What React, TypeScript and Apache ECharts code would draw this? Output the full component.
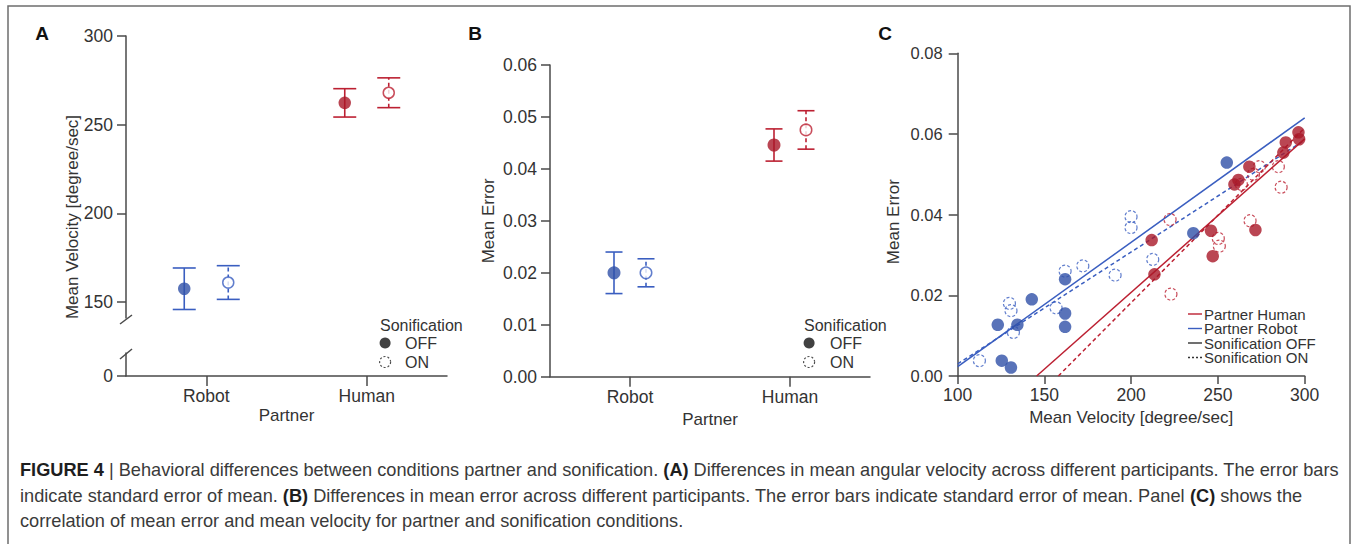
import React, { useEffect, useRef } from 'react';
import * as echarts from 'echarts';

// ---------- data ----------
const partners = ['Robot', 'Human'];

// Panel A: mean velocity [degree/sec], mean and SEM per partner
const velOffMean = [157.5, 262.3];
const velOffSem = [11.7, 8.0];
const velOnMean = [161.0, 268.0];
const velOnSem = [9.5, 8.4];
const velTicks = [150, 200, 250, 300];
const velLowTicks = [0];

// Panel B: mean error, mean and SEM per partner
const errOffMean = [0.02, 0.0446];
const errOffSem = [0.004, 0.0031];
const errOnMean = [0.02, 0.0475];
const errOnSem = [0.0027, 0.0037];

// Panel C: [mean velocity, mean error] per participant
const robotOff = [
  [161.9, 0.024], [142.7, 0.019], [123.1, 0.0127], [134.4, 0.0127], [161.9, 0.0155],
  [161.9, 0.0122], [125.4, 0.0038], [130.7, 0.0021], [255.1, 0.0529], [235.8, 0.0354],
];
const robotOn = [
  [161.9, 0.026], [129.8, 0.018], [130.7, 0.0162], [156.7, 0.0169], [132.1, 0.0108],
  [112.5, 0.0038], [172.1, 0.0273], [199.9, 0.0395], [199.9, 0.0368], [190.7, 0.025],
  [212.4, 0.0289],
];
const humanOff = [
  [211.8, 0.0337], [213.4, 0.0252], [246.0, 0.036], [247.0, 0.0297], [271.6, 0.0362],
  [268.1, 0.0519], [259.5, 0.0475], [261.8, 0.0486], [287.7, 0.0554], [289.1, 0.0579],
  [296.4, 0.0604], [296.8, 0.0587],
];
const humanOn = [
  [222.4, 0.0388], [222.9, 0.0203], [250.2, 0.0341], [250.8, 0.0322], [268.5, 0.0385],
  [273.9, 0.0519], [284.8, 0.0519], [286.4, 0.0468], [263.5, 0.0475], [270.5, 0.05],
];

// regression lines (endpoints)
const fitRobotOff = [[100, 0.0023], [300, 0.064]];
const fitRobotOn = [[100, 0.003], [300, 0.0585]];
const fitHumanOff = [[145.5, 0], [300, 0.0588]];
const fitHumanOn = [[158, 0], [300, 0.0615]];

const legendC = ['Partner Human', 'Partner Robot', 'Sonification OFF', 'Sonification ON'];

const captionLines = [
  '{b|FIGURE 4} | Behavioral differences between conditions partner and sonification. {b|(A)} Differences in mean angular velocity across different participants. The error bars',
  'indicate standard error of mean. {b|(B)} Differences in mean error across different participants. The error bars indicate standard error of mean. Panel {b|(C)} shows the',
  'correlation of mean error and mean velocity for partner and sonification conditions.',
];

// ---------- styles ----------
const FONT = '"Liberation Sans", Arial, Helvetica, sans-serif';
const AXIS = '#4a4a4a';
const TEXT = '#333333';
const BLUE = '#2f50a8';
const RED = '#a91828';
const BLUE_LINE = '#3a5ec0';
const RED_LINE = '#bc2032';
const partnerColors = [BLUE, RED];
const partnerLineColors = ['#3a5ec0', '#bc2032'];

const SOLID_ICON = 'path://M0,0 L14,0 L14,1.4 L0,1.4 Z';
const DASH_ICON = 'path://M0,0 h2 v1.4 h-2 Z M4,0 h2 v1.4 h-2 Z M8,0 h2 v1.4 h-2 Z M12,0 h2 v1.4 h-2 Z';

function errorBars(xi: number, yi: number, means: number[], sems: number[], offset: number, capW: number, dashed: boolean) {
  return {
    type: 'custom',
    xAxisIndex: xi,
    yAxisIndex: yi,
    silent: true,
    z: 2,
    data: means.map((m, i) => [i, m - sems[i], m + sems[i]]),
    renderItem: (params: any, api: any) => {
      const i = api.value(0);
      const lo = api.coord([i, api.value(1)]);
      const hi = api.coord([i, api.value(2)]);
      const x = lo[0] + offset;
      const color = partnerLineColors[params.dataIndex];
      const st = { stroke: color, lineWidth: 1.6, fill: 'none' };
      return {
        type: 'group',
        children: [
          { type: 'line', shape: { x1: x, y1: lo[1], x2: x, y2: hi[1] }, style: { ...st, lineDash: dashed ? [4, 3] : null } },
          { type: 'line', shape: { x1: x - capW / 2, y1: lo[1], x2: x + capW / 2, y2: lo[1] }, style: st },
          { type: 'line', shape: { x1: x - capW / 2, y1: hi[1], x2: x + capW / 2, y2: hi[1] }, style: st },
        ],
      };
    },
  };
}

function meanDots(name: string, xi: number, yi: number, means: number[], offset: number, size: number, open: boolean) {
  return {
    type: 'scatter',
    name,
    xAxisIndex: xi,
    yAxisIndex: yi,
    symbol: 'circle',
    symbolSize: size,
    symbolOffset: [offset, 0],
    z: 4,
    itemStyle: open ? { color: '#ffffff', borderColor: '#222', borderWidth: 1.5 } : { color: '#111' },
    data: means.map((m, i) => ({
      value: [i, m],
      itemStyle: open
        ? { color: '#ffffff', borderColor: partnerLineColors[i], borderWidth: 1.5 }
        : { color: partnerColors[i] },
    })),
  };
}

const tickLabel = (size: number, margin: number) => ({ color: TEXT, fontSize: size, fontFamily: FONT, margin });
const axLine = { show: true, lineStyle: { color: AXIS, width: 1.5 } };
const axTick = (len: number) => ({ show: true, length: len, lineStyle: { color: AXIS, width: 1.5 } });
const nameStyle = { color: TEXT, fontSize: 17, fontFamily: FONT };

const legendSonif = (left: number, itemWidth: number) => ({
  left,
  top: 335,
  padding: 0,
  orient: 'vertical',
  itemWidth,
  itemHeight: 11,
  itemGap: 3,
  selectedMode: false,
  textStyle: { color: TEXT, fontSize: 16, fontFamily: FONT, lineHeight: 16 },
  data: [
    { name: 'OFF', icon: 'circle', itemStyle: { color: '#111', borderWidth: 0 } },
    { name: 'ON', icon: 'circle', itemStyle: { color: '#ffffff', borderColor: '#222', borderWidth: 1.2, borderType: [2, 2] } },
  ],
});

function buildOption(): any {
  return {
    animation: false,
    backgroundColor: '#ffffff',
    textStyle: { fontFamily: FONT },
    grid: [
      { left: 126, top: 36, width: 321, height: 282 },
      { left: 126, top: 353, width: 321, height: 23 },
      { left: 550, top: 65, width: 320, height: 311.7 },
      { left: 957.7, top: 53.3, width: 347, height: 322.7 },
    ],
    xAxis: [
      { gridIndex: 0, type: 'category', data: partners, show: false },
      {
        gridIndex: 1, type: 'category', data: partners,
        axisLine: axLine, axisTick: { ...axTick(10), alignWithLabel: true },
        axisLabel: tickLabel(17.5, 11),
        name: 'Partner', nameLocation: 'middle', nameGap: 31, nameTextStyle: nameStyle,
      },
      {
        gridIndex: 2, type: 'category', data: partners,
        axisLine: axLine, axisTick: { ...axTick(10), alignWithLabel: true },
        axisLabel: tickLabel(17.5, 11),
        name: 'Partner', nameLocation: 'middle', nameGap: 31, nameTextStyle: nameStyle,
      },
      {
        gridIndex: 3, type: 'value', min: 100, max: 300, interval: 50,
        axisLine: axLine, axisTick: axTick(8), splitLine: { show: false },
        axisLabel: tickLabel(17.5, 10),
        name: 'Mean Velocity [degree/sec]', nameLocation: 'middle', nameGap: 27, nameTextStyle: nameStyle,
      },
    ],
    yAxis: [
      {
        gridIndex: 0, type: 'value', min: 141, max: 300,
        axisLine: axLine, axisTick: { ...axTick(9), customValues: velTicks },
        axisLabel: { ...tickLabel(17.5, 13), customValues: velTicks }, splitLine: { show: false },
      },
      {
        gridIndex: 1, type: 'value', min: 0, max: 13,
        axisLine: axLine, axisTick: { ...axTick(9), customValues: velLowTicks },
        axisLabel: { ...tickLabel(17.5, 13), customValues: velLowTicks }, splitLine: { show: false },
      },
      {
        gridIndex: 2, type: 'value', min: 0, max: 0.06, interval: 0.01,
        axisLine: axLine, axisTick: axTick(9), splitLine: { show: false },
        axisLabel: { ...tickLabel(17.5, 13), formatter: (v: number) => v.toFixed(2) },
        name: 'Mean Error', nameLocation: 'middle', nameGap: 53, nameTextStyle: nameStyle,
      },
      {
        gridIndex: 3, type: 'value', min: 0, max: 0.08, interval: 0.02,
        axisLine: axLine, axisTick: axTick(9), splitLine: { show: false },
        axisLabel: { ...tickLabel(16.5, 15), formatter: (v: number) => v.toFixed(2) },
        name: 'Mean Error', nameLocation: 'middle', nameGap: 56,
        nameTextStyle: { ...nameStyle, padding: [0, 14, 0, 0] },
      },
    ],
    legend: [
      legendSonif(379, 30),
      legendSonif(803, 32),
      {
        left: 1188,
        top: 306.5,
        padding: 0,
        orient: 'vertical',
        itemWidth: 14,
        itemHeight: 12,
        itemGap: -0.5,
        selectedMode: false,
        textStyle: { color: TEXT, fontSize: 15, fontFamily: FONT, lineHeight: 14, padding: [0, 0, 0, -3] },
        data: [
          { name: legendC[0], icon: SOLID_ICON, itemStyle: { color: RED_LINE } },
          { name: legendC[1], icon: SOLID_ICON, itemStyle: { color: BLUE_LINE } },
          { name: legendC[2], icon: SOLID_ICON, itemStyle: { color: '#333' } },
          { name: legendC[3], icon: DASH_ICON, itemStyle: { color: '#333' } },
        ],
      },
    ],
    series: [
      // Panel A
      errorBars(0, 0, velOffMean, velOffSem, -22, 23, false),
      errorBars(0, 0, velOnMean, velOnSem, 22, 23, true),
      meanDots('OFF', 0, 0, velOffMean, -22, 12.5, false),
      meanDots('ON', 0, 0, velOnMean, 22, 11, true),
      // Panel B
      errorBars(2, 2, errOffMean, errOffSem, -16, 17, false),
      errorBars(2, 2, errOnMean, errOnSem, 16, 17, true),
      meanDots('OFF', 2, 2, errOffMean, -16, 13, false),
      meanDots('ON', 2, 2, errOnMean, 16, 11.5, true),
      // Panel C regression lines
      { type: 'line', name: 'fit robot off', xAxisIndex: 3, yAxisIndex: 3, data: fitRobotOff, symbol: 'none', silent: true, z: 1, lineStyle: { color: BLUE_LINE, width: 1.5 } },
      { type: 'line', name: 'fit robot on', xAxisIndex: 3, yAxisIndex: 3, data: fitRobotOn, symbol: 'none', silent: true, z: 1, lineStyle: { color: BLUE_LINE, width: 1.5, type: [4, 3] } },
      { type: 'line', name: 'fit human off', xAxisIndex: 3, yAxisIndex: 3, data: fitHumanOff, symbol: 'none', silent: true, z: 1, lineStyle: { color: RED_LINE, width: 1.5 } },
      { type: 'line', name: 'fit human on', xAxisIndex: 3, yAxisIndex: 3, data: fitHumanOn, symbol: 'none', silent: true, z: 1, lineStyle: { color: RED_LINE, width: 1.5, type: [4, 3] } },
      // Panel C scatter
      { type: 'scatter', name: 'Robot ON pts', xAxisIndex: 3, yAxisIndex: 3, data: robotOn, symbolSize: 12, z: 3, itemStyle: { color: 'rgba(255,255,255,0)', borderColor: BLUE_LINE, borderWidth: 1.2, borderType: [3, 2] } },
      { type: 'scatter', name: 'Human ON pts', xAxisIndex: 3, yAxisIndex: 3, data: humanOn, symbolSize: 12, z: 3, itemStyle: { color: 'rgba(255,255,255,0)', borderColor: RED_LINE, borderWidth: 1.2, borderType: [3, 2] } },
      { type: 'scatter', name: 'Robot OFF pts', xAxisIndex: 3, yAxisIndex: 3, data: robotOff, symbolSize: 12.5, z: 4, itemStyle: { color: BLUE } },
      { type: 'scatter', name: 'Human OFF pts', xAxisIndex: 3, yAxisIndex: 3, data: humanOff, symbolSize: 12.5, z: 4, itemStyle: { color: RED } },
      // legend entries for panel C
      { type: 'line', name: 'Partner Human', xAxisIndex: 3, yAxisIndex: 3, data: [], symbol: 'none', itemStyle: { color: RED_LINE }, lineStyle: { color: RED_LINE, width: 1.5 } },
      { type: 'line', name: 'Partner Robot', xAxisIndex: 3, yAxisIndex: 3, data: [], symbol: 'none', itemStyle: { color: BLUE_LINE }, lineStyle: { color: BLUE_LINE, width: 1.5 } },
      { type: 'line', name: 'Sonification OFF', xAxisIndex: 3, yAxisIndex: 3, data: [], symbol: 'none', itemStyle: { color: '#333' }, lineStyle: { color: '#333', width: 1.5 } },
      { type: 'line', name: 'Sonification ON', xAxisIndex: 3, yAxisIndex: 3, data: [], symbol: 'none', itemStyle: { color: '#333' }, lineStyle: { color: '#333', width: 1.5, type: [2, 2] } },
    ],
    graphic: [
      { type: 'rect', silent: true, shape: { x: 8, y: 6, width: 1342, height: 600 }, style: { fill: 'none', stroke: '#6e6e6e', lineWidth: 1.5 } },
      { type: 'text', x: 42, y: 33, style: { text: 'A', fontSize: 19, fontWeight: 'bold', fontFamily: FONT, fill: '#111', align: 'center', verticalAlign: 'middle' } },
      { type: 'text', x: 475, y: 33, style: { text: 'B', fontSize: 19, fontWeight: 'bold', fontFamily: FONT, fill: '#111', align: 'center', verticalAlign: 'middle' } },
      { type: 'text', x: 885, y: 33, style: { text: 'C', fontSize: 19, fontWeight: 'bold', fontFamily: FONT, fill: '#111', align: 'center', verticalAlign: 'middle' } },
      { type: 'text', x: 72, y: 217, rotation: Math.PI / 2, style: { text: 'Mean Velocity [degree/sec]', fontSize: 17, fontFamily: FONT, fill: TEXT, align: 'center', verticalAlign: 'middle' } },
      // axis break marks
      { type: 'line', silent: true, shape: { x1: 120, y1: 324, x2: 132, y2: 315 }, style: { stroke: AXIS, lineWidth: 1.5 } },
      { type: 'line', silent: true, shape: { x1: 120, y1: 359, x2: 132, y2: 349 }, style: { stroke: AXIS, lineWidth: 1.5 } },
      { type: 'text', x: 380, y: 325, style: { text: 'Sonification', fontSize: 16, fontFamily: FONT, fill: TEXT, verticalAlign: 'middle' } },
      { type: 'text', x: 804, y: 325, style: { text: 'Sonification', fontSize: 16, fontFamily: FONT, fill: TEXT, verticalAlign: 'middle' } },
      ...captionLines.map((t, i) => ({
        type: 'text',
        x: 20,
        y: 470 + i * 25.5,
        style: {
          text: t,
          fontSize: 18.2,
          fontFamily: FONT,
          fill: '#3a3a3a',
          verticalAlign: 'middle',
          rich: { b: { fontSize: 18.2, fontFamily: FONT, fontWeight: 'bold', fill: '#1e1e1e' } },
        },
      })),
    ],
  };
}

export default function App() {
  const ref = useRef<HTMLDivElement>(null);
  useEffect(() => {
    document.body.style.margin = '0';
    if (!ref.current) return;
    const chart = echarts.init(ref.current, undefined, { renderer: 'svg' });
    chart.setOption(buildOption());
    return () => chart.dispose();
  }, []);
  return <div ref={ref} style={{ width: 1357, height: 544 }} />;
}
